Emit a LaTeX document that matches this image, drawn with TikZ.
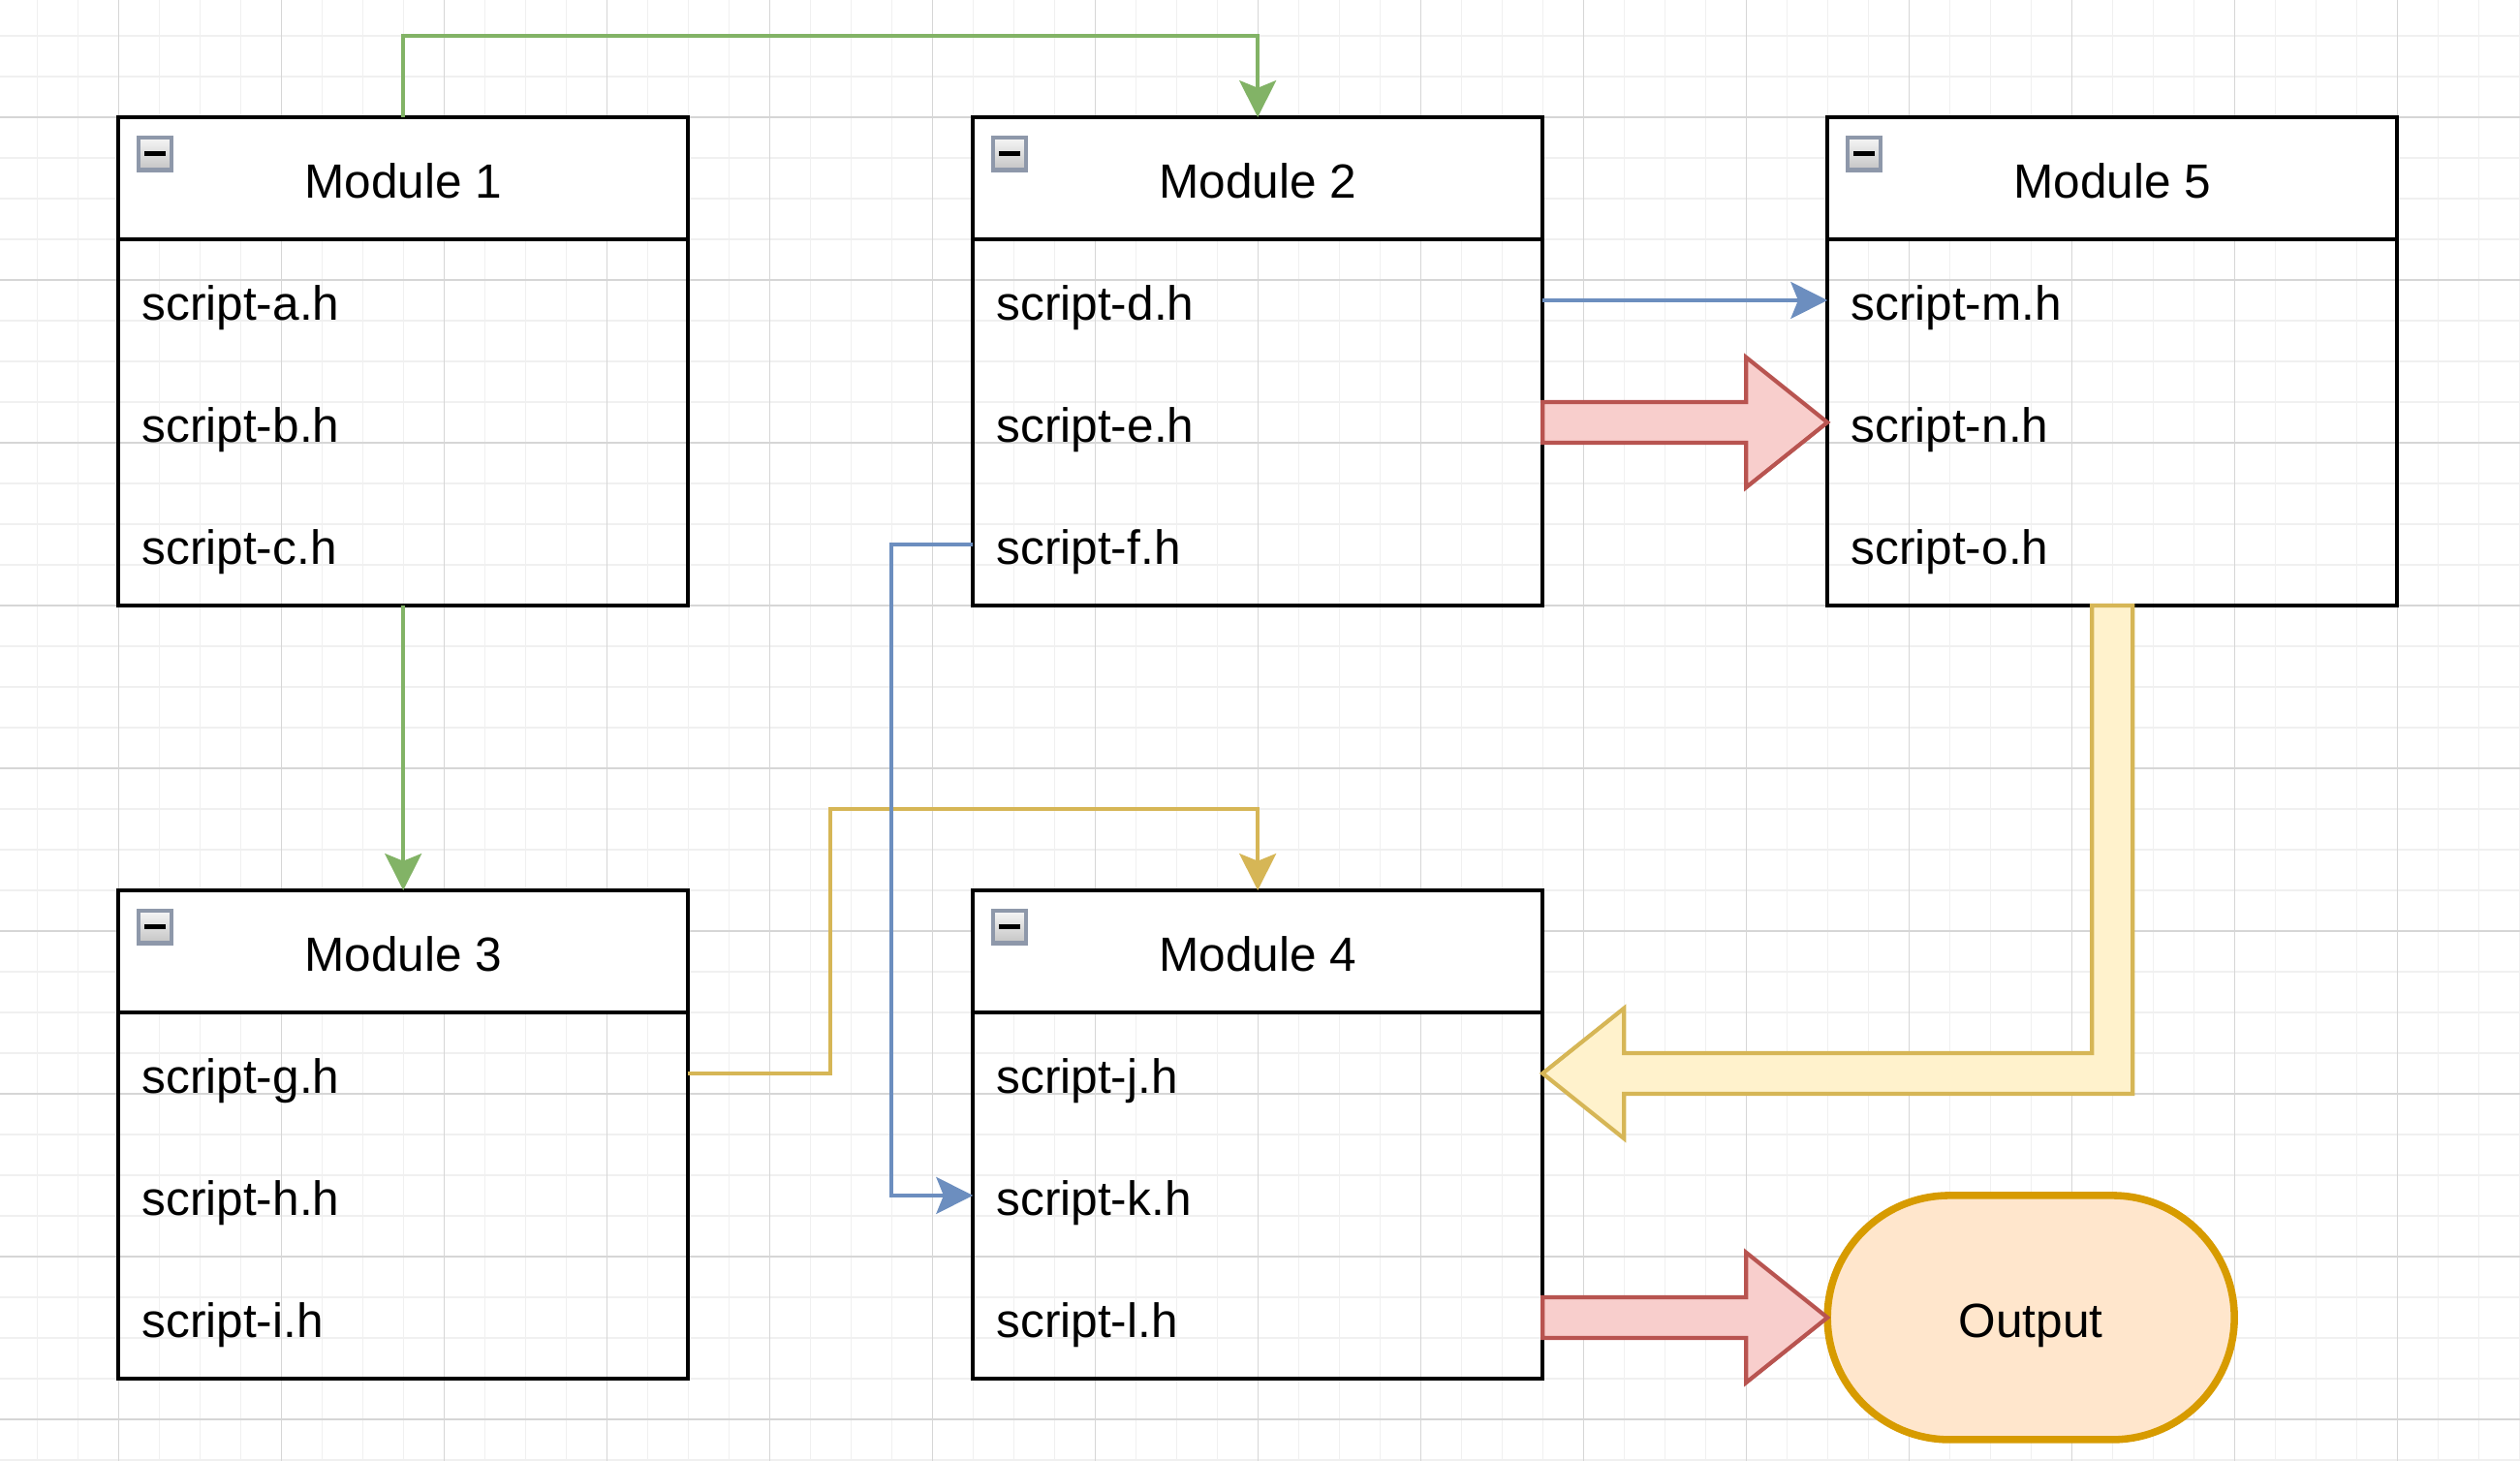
\documentclass[tikz,border=0pt]{standalone}
\usepackage{fontspec}
\setmainfont{Liberation Sans}
\usetikzlibrary{arrows.meta,calc}
\definecolor{cgreen}{HTML}{82B366}
\definecolor{cblue}{HTML}{6C8EBF}
\definecolor{cgold}{HTML}{D6B656}
\definecolor{credS}{HTML}{B85450}
\definecolor{credF}{HTML}{F8CECC}
\definecolor{cyelF}{HTML}{FFF2CC}
\definecolor{coutF}{HTML}{FFE6CC}
\definecolor{coutS}{HTML}{D79B00}
\definecolor{gridmaj}{HTML}{D6D6D6}
\definecolor{gridmin}{HTML}{F0F0F0}
\definecolor{iconS}{HTML}{8E98AA}
\definecolor{iconTop}{HTML}{F6F6F6}
\definecolor{iconBot}{HTML}{C4C4C4}

\newcommand\modul[7]{%
\begin{scope}[shift={(#2,#3)}]
  \node[modbody] (#1) at (70,60) {};
  \node[modhead] (#1h) at (70,15) {#4};
  \node[modrow] (#1#5) at (70,45) {script-#5.h};
  \node[modrow] (#1#6) at (70,75) {script-#6.h};
  \node[modrow] (#1#7) at (70,105) {script-#7.h};
  \shade[top color=iconTop, bottom color=iconBot] (5,5) rectangle (13,13);
  \draw[draw=iconS, line width=1pt] (5,5) rectangle (13,13);
  \draw[line width=1.2pt] (6.4,9) -- (11.6,9);
\end{scope}}

\newcommand\flexarr[2]{%
  \draw[flexred] ($(#1)+(0,-5)$) -- ($(#2)+(-20,-5)$) -- ($(#2)+(-20,-16)$) -- (#2)
    -- ($(#2)+(-20,16)$) -- ($(#2)+(-20,5)$) -- ($(#1)+(0,5)$) -- cycle;}

\begin{document}
\begin{tikzpicture}[x=1pt,y=-1pt,
  every node/.style={font=\fontsize{11.8pt}{14pt}\selectfont},
  gridminor/.style={draw=gridmin, line width=0.3pt},
  gridmajor/.style={draw=gridmaj, line width=0.3pt},
  modbody/.style={draw=black, line width=1pt, rectangle, minimum width=140pt, minimum height=120pt, inner sep=0pt, outer sep=0pt},
  modhead/.style={draw=black, fill=white, line width=1pt, rectangle, minimum width=140pt, minimum height=30pt, inner sep=0pt, outer sep=0pt, text height=9.6pt, text depth=0pt},
  modrow/.style={rectangle, minimum width=140pt, minimum height=30pt, inner xsep=5.8pt, inner ysep=0pt, outer sep=0pt, text width=128.4pt, align=left, text height=9.6pt, text depth=0pt},
  outbox/.style={rectangle, draw=coutS, fill=coutF, line width=1.8pt, minimum width=100pt, minimum height=60pt, rounded corners=30pt, inner sep=0pt, outer sep=0pt, text height=9.6pt, text depth=0pt},
  conn/.style={draw=#1, line width=1pt, -{Stealth[length=9pt,width=9pt,inset=1.8pt]}},
  flexred/.style={draw=credS, fill=credF, line width=1pt, line join=miter},
  flexyel/.style={draw=cgold, fill=cyelF, line width=1pt, line join=miter}
]
\useasboundingbox (-29.1,-28.8) rectangle (590.2,330.2);
\fill[white] (-29.1,-28.8) rectangle (590.2,330.2);
\foreach \i in {-20,-10,...,590} \draw[gridminor] (\i,-28.8) -- (\i,330.2);
\foreach \j in {-20,-10,...,330} \draw[gridminor] (-29.1,\j) -- (590.2,\j);
\foreach \i in {0,40,...,560} \draw[gridmajor] (\i,-28.8) -- (\i,330.2);
\foreach \j in {0,40,...,320} \draw[gridmajor] (-29.1,\j) -- (590.2,\j);

\modul{m1}{0}{0}{Module 1}{a}{b}{c}
\modul{m2}{210}{0}{Module 2}{d}{e}{f}
\modul{m5}{420}{0}{Module 5}{m}{n}{o}
\modul{m3}{0}{190}{Module 3}{g}{h}{i}
\modul{m4}{210}{190}{Module 4}{j}{k}{l}

\node[outbox] (out) at (470,295) {Output};

\flexarr{m2e.east}{m5n.west}
\flexarr{m4l.east}{out.west}

\draw[flexyel] ($(m5.south)+(-5,0)$) -- ($(m5.south)+(5,0)$)
  -- ($(m5.south|-m4j.east)+(5,5)$) -- ($(m4j.east)+(20,5)$) -- ($(m4j.east)+(20,16)$)
  -- (m4j.east) -- ($(m4j.east)+(20,-16)$) -- ($(m4j.east)+(20,-5)$)
  -- ($(m5.south|-m4j.east)+(-5,-5)$) -- cycle;

\draw[conn=cgreen] (m1.north) -- ++(0,-20) -| (m2.north);
\draw[conn=cgreen] (m1.south) -- (m3.north);
\draw[conn=cgold] (m3g.east) -- ++(35,0) |- ($(m4.north)+(0,-20)$) -- (m4.north);
\draw[conn=cblue] (m2d.east) -- (m5m.west);
\draw[conn=cblue] (m2f.west) -- ++(-20,0) |- (m4k.west);
\end{tikzpicture}
\end{document}
